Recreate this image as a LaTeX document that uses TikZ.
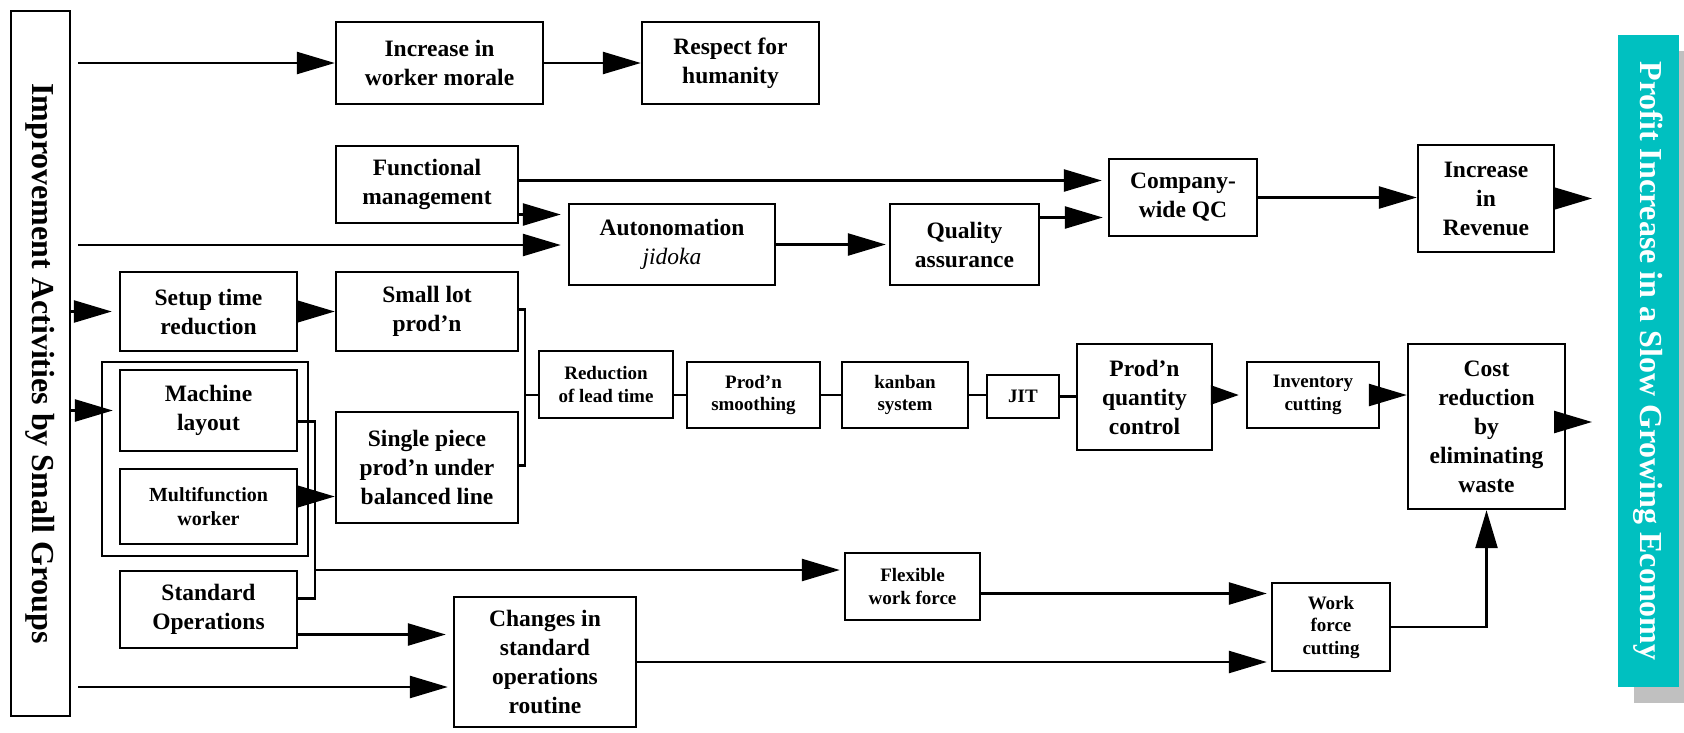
\documentclass[tikz,border=0pt]{standalone}
\usepackage{fontspec}
\setmainfont{Liberation Serif}
\usetikzlibrary{arrows.meta,shadows}
\definecolor{tealbar}{RGB}{0,192,192}
\definecolor{shadowgray}{RGB}{192,192,192}
\begin{document}
\begin{tikzpicture}[x=1pt,y=-1pt,
  box/.style={draw, line width=2.4pt, inner sep=0pt, align=center,
    font=\bfseries\fontsize{23.5}{29}\selectfont},
  smallbox/.style={box, font=\bfseries\fontsize{19}{22.5}\selectfont},
  line/.style={line width=2.5pt},
  arr/.style={line, -{Triangle[length=38pt,width=22pt]}},
  sz/.style 2 args={minimum width=#1pt, minimum height=#2pt},
]
\useasboundingbox (0,0) rectangle (1684,732);
\fill[white] (0,0) rectangle (1684,732);

% side bars
\node[box, sz={59}{705}] (left) at (40.5,363.5) {};
\node[rotate=-90, font=\bfseries\fontsize{32}{38}\selectfont] (lefttext) at (left.center)
  {Improvement Activities by Small Groups};
\node[fill=tealbar, inner sep=0pt, sz={61}{652},
  drop shadow={shadow xshift=16pt, shadow yshift=-16pt, fill=shadowgray, opacity=1}]
  (goal) at (1648.5,361) {};
\node[rotate=-90, text=white, font=\bfseries\fontsize{32}{38}\selectfont] (goaltext) at (goal.center)
  {Profit Increase in a Slow Growing Economy};

% upper rows
\node[box, sz={207}{82}] (morale) at (439.5,63) {Increase in\\worker morale};
\node[box, sz={177}{82}] (respect) at (730.5,63) {Respect for\\humanity};
\node[box, sz={182}{77}] (func) at (427,184.5) {Functional\\management};
\node[box, sz={206}{81}] (auton) at (672,244.5) {Autonomation\\{\mdseries\itshape jidoka}};
\node[box, sz={149}{81}] (quality) at (964.5,244.5) {Quality\\assurance};
\node[box, sz={148}{77}] (company) at (1183,197.5) {Company-\\wide QC};
\node[box, sz={136}{107}] (revenue) at (1486,198.5) {Increase\\in\\Revenue};

% left column
\node[box, sz={177}{79}] (setup) at (208.5,311.5) {Setup time\\reduction};
\node[box, sz={182}{79}] (small) at (427,311.5) {Small lot\\prod’n};
\node[box, sz={206}{194}] (group) at (205,459) {};
\node[box, sz={177}{81}] (machine) at (208.5,410.5) {Machine\\layout};
\node[box, sz={177}{75}, font=\bfseries\fontsize{20}{23.5}\selectfont] (multi) at (208.5,506.5) {Multifunction\\worker};
\node[box, sz={177}{77}] (stdops) at (208.5,609.5) {Standard\\Operations};
\node[box, sz={182}{111}] (single) at (427,467.5) {Single piece\\prod’n under\\balanced line};

% production chain
\node[smallbox, sz={134}{67}] (red) at (606,384.5) {Reduction\\of lead time};
\node[smallbox, sz={133}{66}] (smooth) at (753.5,395) {Prod’n\\smoothing};
\node[smallbox, sz={126}{66}] (kanban) at (905,395) {kanban\\system};
\node[smallbox, sz={72}{43}] (jit) at (1023,396.5) {JIT};
\node[box, sz={135}{106}] (pqc) at (1144.5,397) {Prod’n\\quantity\\control};
\node[smallbox, sz={132}{66}] (inv) at (1313,395) {Inventory\\cutting};
\node[box, sz={157}{165}] (cost) at (1486.5,426.5) {Cost\\reduction\\by\\eliminating\\waste};

% lower rows
\node[smallbox, sz={135}{67}] (flex) at (912.5,586.5) {Flexible\\work force};
\node[box, sz={182}{130}] (changes) at (545,662) {Changes in\\standard\\operations\\routine};
\node[smallbox, sz={118}{88}] (wfc) at (1331,627) {Work\\force\\cutting};

% free ends of connectors
\coordinate (s1) at (78,63);
\coordinate (s2) at (78,245);
\coordinate (s3) at (78,687);
\coordinate (rOut) at (1592,198.5);
\coordinate (cOut) at (1592,422);
\coordinate (bus) at (315,570);
\coordinate (bx) at (525,395);

% connectors: top half
\draw[arr] (s1) -- (morale.west);
\draw[arr] (morale.east) -- (respect.west);
\path ([yshift=4pt]func.east) coordinate (f1) ([yshift=-30pt]func.east) coordinate (f2);
\draw[arr, shorten >=6pt] (f1) -- (f1 -| company.west);
\draw[arr, shorten >=7pt] (f2) -- (f2 -| auton.west);
\draw[arr, shorten >=7pt] (s2) -- (s2 -| auton.west);
\draw[arr, shorten >=3pt] (auton.east) -- (quality.west);
\path ([yshift=27pt]quality.east) coordinate (q1);
\draw[arr, shorten >=5pt] (q1) -- (q1 -| company.west);
\draw[arr] (company.east) -- (company.east -| revenue.west);
\draw[arr] (revenue.east) -- (rOut);

% connectors: left column
\draw[arr, shorten >=7pt] (left.east |- setup) -- (setup.west);
\draw[arr] (setup.east) -- (small.west);
\draw[arr, shorten >=6pt] (left.east |- machine) -- (machine.west);
\path ([yshift=-11pt]machine.east) coordinate (m1) ([yshift=11pt]stdops.east) coordinate (m2);
\draw[line] (m1) -| (bus |- m2) -- (m2);
\draw[arr, shorten >=4pt] (bus) -- (bus -| flex.west);
\path ([yshift=10pt]multi.east) coordinate (mw);
\draw[arr] (mw) -- (mw -| single.west);
\path ([yshift=-25pt]stdops.east) coordinate (so);
\draw[arr, shorten >=7pt] (so) -- (so -| changes.west);
\draw[arr, shorten >=5pt] (s3) -- (s3 -| changes.west);

% bracket into the chain
\path ([yshift=2pt]small.east) coordinate (b1) ([yshift=2pt]single.east) coordinate (b2);
\draw[line] (b1) -| (bx) |- (b2);
\draw[line] (bx) -- (bx -| red.west);

% chain
\draw[line] (red.east |- smooth) -- (smooth.west);
\draw[line] (smooth.east) -- (kanban.west);
\draw[line] (kanban.east) -- (kanban.east -| jit.west);
\draw[line] (jit.east) -- (jit.east -| pqc.west);
\draw[line, -{Triangle[length=28pt,width=19pt]}, shorten >=7pt] (pqc.east |- inv) -- (inv.west);
\draw[arr] (inv.east) -- (inv.east -| cost.west);
\draw[arr] (cost.east |- cOut) -- (cOut);

% lower connectors
\draw[arr, shorten >=4pt] (changes.east) -- (changes.east -| wfc.west);
\path ([yshift=-7pt]flex.east) coordinate (fx);
\draw[arr, shorten >=4pt] (fx) -- (fx -| wfc.west);
\draw[arr] (wfc.east) -| (cost.south);
\end{tikzpicture}
\end{document}
